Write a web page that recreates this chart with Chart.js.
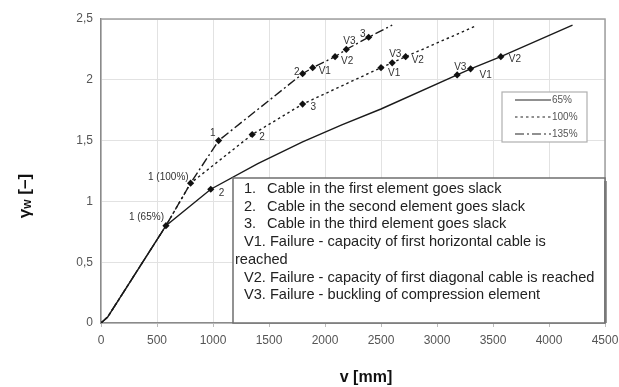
<!DOCTYPE html>
<html>
<head>
<meta charset="utf-8">
<script src="https://cdn.jsdelivr.net/npm/chart.js@4.4.1/dist/chart.umd.min.js"></script>
<style>
  html, body { margin: 0; padding: 0; background: #fff; }
  #wrap { width: 619px; height: 387px; }
</style>
</head>
<body>
<div id="wrap"><canvas id="chart" width="619" height="387"></canvas></div>
<script>
// Values
const xTicks = [0, 500, 1000, 1500, 2000, 2500, 3000, 3500, 4000, 4500];
const yTicks = [0, 0.5, 1, 1.5, 2, 2.5];

const v65 = [0, 60, 580, 980, 1400, 1800, 2150, 2500, 3180, 3300, 3570, 4210];
const g65 = [0, 0.05, 0.8, 1.1, 1.31, 1.49, 1.63, 1.76, 2.04, 2.09, 2.19, 2.45];
const marks65 = [2, 3, 8, 9, 10];
const labels65 = ['1 (65%)', '2', 'V3', 'V1', 'V2'];

const v100 = [0, 60, 580, 800, 1350, 1800, 2500, 2600, 2720, 3340];
const g100 = [0, 0.05, 0.8, 1.15, 1.55, 1.8, 2.1, 2.14, 2.19, 2.44];
const marks100 = [3, 4, 5, 6, 7, 8];
const labels100 = ['1 (100%)', '2', '3', 'V1', 'V3', 'V2'];

const v135 = [0, 60, 580, 800, 1050, 1800, 1890, 2090, 2190, 2390, 2600];
const g135 = [0, 0.05, 0.8, 1.15, 1.5, 2.05, 2.1, 2.19, 2.25, 2.35, 2.45];
const marks135 = [4, 5, 6, 7, 8, 9];
const labels135 = ['1', '2', 'V1', 'V2', 'V3', '3'];

const seriesNames = ['65%', '100%', '135%'];

const notes = [
    ['1.', 'Cable in the first element goes slack'],
    ['2.', 'Cable in the second element goes slack'],
    ['3.', 'Cable in the third element goes slack'],
    ['', 'V1. Failure - capacity of first horizontal cable is'],
    ['', 'reached'],
    ['', 'V2. Failure - capacity of first diagonal cable is reached'],
    ['', 'V3. Failure - buckling of compression element']
];

// label placement next to each marker: [dx, dy, align]
const labelPlace = {
    0: [[-2, -8, 'right'], [8, 4, 'left'], [-3, -8, 'left'], [9, 6, 'left'], [8, 3, 'left']],
    1: [[-2, -6, 'right'], [7, 3, 'left'], [8, 3, 'left'], [7, 6, 'left'], [-3, -9, 'left'], [6, 4, 'left']],
    2: [[-3, -7, 'right'], [-3, -1, 'right'], [6, 4, 'left'], [6, 5, 'left'], [-3, -8, 'left'], [-3, -3, 'right']]
};

const toPoints = (xs, ys) => xs.map((x, i) => ({ x: x, y: ys[i] }));
const markRadius = marks => ctx => marks.includes(ctx.dataIndex) ? 3.6 : 0;

function makeSet(name, xs, ys, marks, dash) {
    return {
        label: name,
        data: toPoints(xs, ys),
        borderColor: '#1a1a1a',
        backgroundColor: '#111',
        borderWidth: 1.4,
        borderDash: dash,
        pointStyle: 'rectRot',
        pointRadius: markRadius(marks),
        pointBorderWidth: 0,
        tension: 0,
        marks: marks
    };
}

const pointLabels = [labels65, labels100, labels135];
const FONT = '"Liberation Sans", Arial, sans-serif';

const annotate = {
    id: 'annotate',
    afterDatasetsDraw(chart) {
        const c = chart.ctx;
        const area = chart.chartArea;

        // frame
        c.save();
        c.strokeStyle = '#a0a0a0';
        c.lineWidth = 1.5;
        c.beginPath();
        c.moveTo(area.left, area.top);
        c.lineTo(area.right, area.top);
        c.lineTo(area.right, area.bottom);
        c.stroke();
        c.restore();

        // marker labels
        c.save();
        c.font = '10px ' + FONT;
        c.fillStyle = '#333';
        c.textBaseline = 'middle';
        chart.data.datasets.forEach((ds, si) => {
            const meta = chart.getDatasetMeta(si);
            ds.marks.forEach((idx, k) => {
                const el = meta.data[idx];
                const p = labelPlace[si][k];
                c.textAlign = p[2];
                c.fillText(pointLabels[si][k], el.x + p[0], el.y + p[1]);
            });
        });
        c.restore();

        // legend box
        const lx = 502, ly = 92, lw = 85, lh = 50;
        c.save();
        c.fillStyle = '#fff';
        c.fillRect(lx, ly, lw, lh);
        c.strokeStyle = '#b0b0b0';
        c.lineWidth = 1.2;
        c.strokeRect(lx, ly, lw, lh);
        c.font = '10px ' + FONT;
        c.textBaseline = 'middle';
        c.textAlign = 'left';
        chart.data.datasets.forEach((ds, i) => {
            const y = ly + 8 + i * 17;
            c.strokeStyle = '#222';
            c.lineWidth = 1.2;
            c.setLineDash(ds.borderDash || []);
            c.beginPath();
            c.moveTo(lx + 13, y);
            c.lineTo(lx + 49, y);
            c.stroke();
            c.setLineDash([]);
            c.fillStyle = '#555';
            c.fillText(ds.label, lx + 50, y);
        });
        c.restore();

        // notes box
        const bx = 233, by = 178, bw = area.right - bx, bh = area.bottom - by;
        c.save();
        c.fillStyle = '#fff';
        c.fillRect(bx, by, bw, bh);
        c.fillStyle = '#999';
        c.fillRect(bx + bw - 1, by + 3, 3, bh - 3);
        c.strokeStyle = '#6f6f6f';
        c.lineWidth = 1.5;
        c.strokeRect(bx, by, bw, bh);
        c.font = '14.6px ' + FONT;
        c.fillStyle = '#222';
        c.textBaseline = 'middle';
        c.textAlign = 'left';
        notes.forEach((n, i) => {
            const y = by + 11 + i * 17.7;
            if (n[0]) {
                c.fillText(n[0], 244, y);
                c.fillText(n[1], 267, y);
            } else if (n[1] === 'reached') {
                c.fillText(n[1], 235, y);
            } else {
                c.fillText(n[1], 244, y);
            }
        });
        c.restore();
    },
    afterDraw(chart) {
        const c = chart.ctx;
        c.save();
        c.fillStyle = '#111';
        // x title
        c.font = 'bold 16px ' + FONT;
        c.textAlign = 'center';
        c.textBaseline = 'middle';
        c.fillText('v [mm]', 366, 378);
        // y title with subscript
        c.translate(25, 196);
        c.rotate(-Math.PI / 2);
        c.textAlign = 'left';
        const big = 'bold 17px ' + FONT;
        const small = 'bold 12px ' + FONT;
        c.font = big; const w1 = c.measureText('γ').width;
        c.font = small; const w2 = c.measureText('w').width;
        c.font = big; const w3 = c.measureText(' [–]').width;
        let x = -(w1 + w2 + w3) / 2;
        c.font = big; c.fillText('γ', x, 0); x += w1;
        c.font = small; c.fillText('w', x, 3); x += w2;
        c.font = big; c.fillText(' [–]', x, 0);
        c.restore();
    }
};

const ctx = document.getElementById('chart').getContext('2d');
const chart = new Chart(ctx, {
    type: 'line',
    data: {
        datasets: [
            makeSet(seriesNames[0], v65, g65, marks65, []),
            makeSet(seriesNames[1], v100, g100, marks100, [2.5, 3]),
            makeSet(seriesNames[2], v135, g135, marks135, [9, 3, 2, 3])
        ]
    },
    options: {
        responsive: false,
        animation: false,
        layout: { padding: { left: 0, right: 14, top: 19, bottom: 0 } },
        plugins: {
            legend: { display: false },
            tooltip: { enabled: false }
        },
        scales: {
            x: {
                type: 'linear',
                min: 0,
                max: 4500,
                afterBuildTicks: s => { s.ticks = xTicks.map(v => ({ value: v })); },
                afterFit: s => { s.height = 64; s.paddingRight = 0; s.paddingLeft = 0; },
                grid: { color: '#e2e2e2', tickLength: 4, tickColor: '#bbb' },
                border: { color: '#8a8a8a', width: 1.5 },
                ticks: {
                    color: '#555',
                    padding: 6,
                    font: { family: FONT, size: 12 },
                    maxRotation: 0,
                    callback: v => String(v)
                }
            },
            y: {
                min: 0,
                max: 2.5,
                afterBuildTicks: s => { s.ticks = yTicks.map(v => ({ value: v })); },
                afterFit: s => { s.width = 101; s.paddingTop = 0; s.paddingBottom = 0; },
                grid: { color: '#e2e2e2', tickLength: 0 },
                border: { color: '#8a8a8a', width: 1.5 },
                ticks: {
                    color: '#555',
                    padding: 8,
                    font: { family: FONT, size: 12 },
                    callback: v => String(v).replace('.', ',')
                }
            }
        }
    },
    plugins: [annotate]
});
</script>
</body>
</html>
